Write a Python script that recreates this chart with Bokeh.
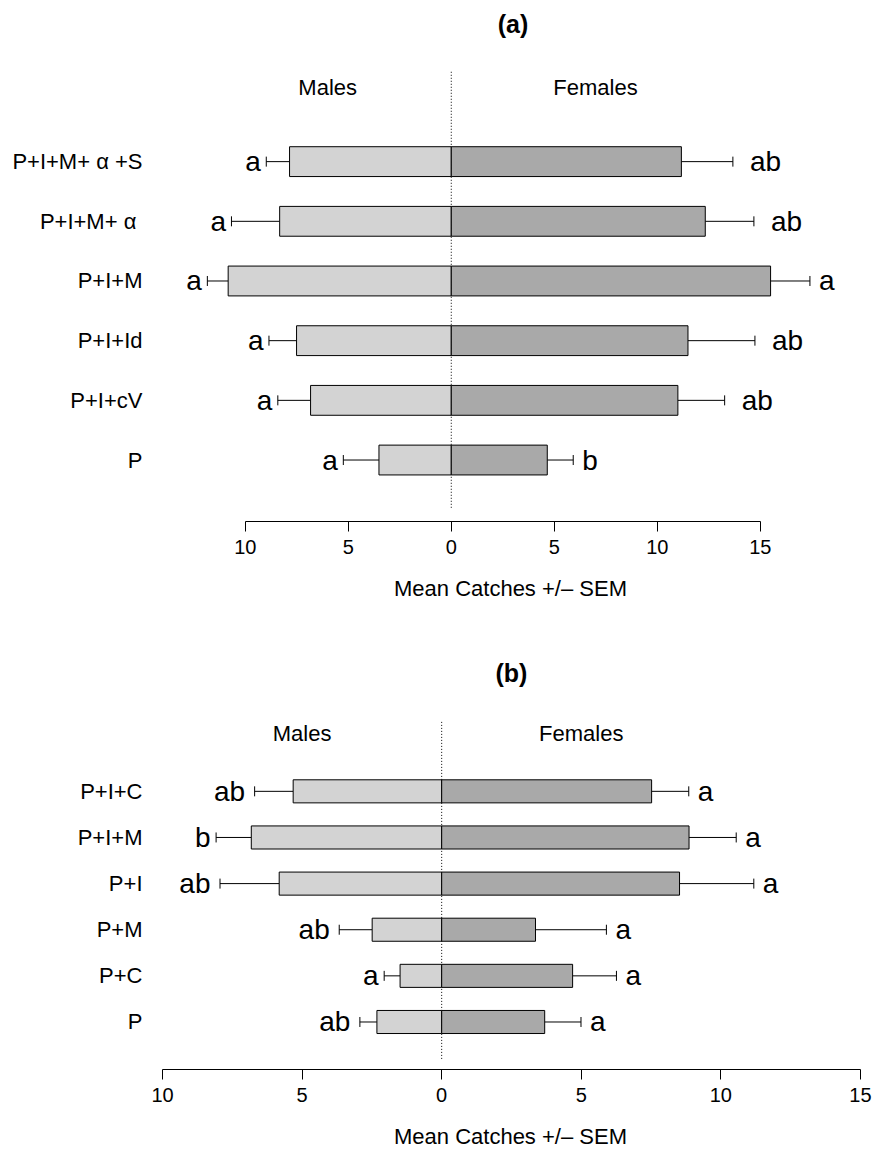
from bokeh.plotting import figure
from bokeh.layouts import column
from bokeh.models import Range1d, FixedTicker, Whisker, TeeHead, ColumnDataSource
from bokeh.core.properties import value
from bokeh.embed import file_html
from bokeh.resources import INLINE

# ---------------- data ----------------
# panel (a), categories listed top to bottom
cats_a = ["P+I+M+ α +S", "P+I+M+ α ", "P+I+M", "P+I+Id", "P+I+cV", "P"]
male_a = [7.85, 8.33, 10.83, 7.51, 6.83, 3.51]
male_sem_a = [1.13, 2.34, 1.01, 1.34, 1.59, 1.73]
female_a = [11.17, 12.33, 15.50, 11.49, 11.00, 4.66]
female_sem_a = [2.50, 2.36, 1.91, 3.25, 2.27, 1.26]
male_letters_a = ["a", "a", "a", "a", "a", "a"]
female_letters_a = ["ab", "ab", "a", "ab", "ab", "b"]

# panel (b), categories listed top to bottom
cats_b = ["P+I+C", "P+I+M", "P+I", "P+M", "P+C", "P"]
male_b = [5.32, 6.82, 5.82, 2.49, 1.49, 2.32]
male_sem_b = [1.38, 1.26, 2.12, 1.18, 0.57, 0.61]
female_b = [7.52, 8.86, 8.52, 3.36, 4.69, 3.69]
female_sem_b = [1.33, 1.69, 2.66, 2.54, 1.57, 1.30]
male_letters_b = ["ab", "b", "ab", "ab", "a", "ab"]
female_letters_b = ["a", "a", "a", "a", "a", "a"]

x_ticks = [-10, -5, 0, 5, 10, 15]
x_title = "Mean Catches +/\u2013 SEM"
sex_labels = ["Males", "Females"]
panel_titles = ["(a)", "(b)"]

# ---------------- layout constants ----------------
Y_BOTTOM = -0.53      # bottom of plotting region (axis line)
Y_REGION_TOP = 7.03   # top of the R plotting region (top of dotted line)
SEX_LABEL_Y = 6.75
FONT = "Liberation Sans"
MALE_FILL = "#d3d3d3"
FEMALE_FILL = "#a9a9a9"


def make_panel(title, title_xy, cats, m, ms, f, fs, ml, fl, x_lim, y_top, sex_x,
               height, b_bottom):
    n = len(cats)
    ys = [n - 1 - i + 0.5 for i in range(n)]
    p = figure(width=875, height=height,
               x_range=Range1d(*x_lim), y_range=Range1d(Y_BOTTOM, y_top),
               output_backend="svg", toolbar_location=None,
               min_border_left=150, min_border_right=5,
               min_border_top=0, min_border_bottom=b_bottom)
    p.grid.visible = False
    p.outline_line_color = None
    p.background_fill_color = "white"
    p.border_fill_color = "white"

    # panel title
    p.text(x=[title_xy[0]], y=[title_xy[1]], text=[title],
           text_align="center", text_baseline="middle",
           text_font=value(FONT), text_font_size="25px",
           text_font_style="bold", text_color="black")

    # zero reference line (dotted)
    p.segment(x0=0, y0=Y_BOTTOM + 0.23, x1=0, y1=Y_REGION_TOP,
              line_color="black", line_dash="1 2", line_width=1)

    src = ColumnDataSource(dict(
        y=ys,
        m_left=[-v for v in m],
        m_outer=[-(v + s) for v, s in zip(m, ms)],
        f_right=f,
        f_outer=[v + s for v, s in zip(f, fs)],
        ml=ml, fl=fl,
        ml_off=[-(5.5 + 4 * (len(s) - 1)) for s in ml],
        fl_off=[9 + 8 * (len(s) - 1) for s in fl],
    ))

    p.hbar(y="y", left="m_left", right=0, height=0.5, source=src,
           fill_color=MALE_FILL, line_color="black", line_width=1)
    p.hbar(y="y", left=0, right="f_right", height=0.5, source=src,
           fill_color=FEMALE_FILL, line_color="black", line_width=1)

    p.add_layout(Whisker(source=src, base="y", lower="m_outer", upper="m_left",
                         dimension="width", line_color="black", line_width=1,
                         lower_head=TeeHead(size=10, line_color="black", line_width=1),
                         upper_head=None))
    p.add_layout(Whisker(source=src, base="y", lower="f_right", upper="f_outer",
                         dimension="width", line_color="black", line_width=1,
                         upper_head=TeeHead(size=10, line_color="black", line_width=1),
                         lower_head=None))

    p.text(x="m_outer", y="y", text="ml", x_offset="ml_off", y_offset=0,
           source=src, text_align="right", text_baseline="middle",
           text_font=value(FONT), text_font_size="28px", text_color="black")
    p.text(x="f_outer", y="y", text="fl", x_offset="fl_off", y_offset=0,
           source=src, text_align="left", text_baseline="middle",
           text_font=value(FONT), text_font_size="28px", text_color="black")

    p.text(x=sex_x, y=[SEX_LABEL_Y, SEX_LABEL_Y], text=sex_labels,
           text_align="center", text_baseline="middle",
           text_font=value(FONT), text_font_size="22px", text_color="black")

    xa = p.xaxis[0]
    xa.ticker = FixedTicker(ticks=x_ticks, minor_ticks=[])
    xa.major_label_overrides = {t_: str(abs(t_)) for t_ in x_ticks}
    xa.bounds = (x_ticks[0], x_ticks[-1])
    xa.major_tick_out = 10
    xa.major_tick_in = 0
    xa.minor_tick_line_color = None
    xa.axis_line_color = "black"
    xa.major_tick_line_color = "black"
    xa.major_label_text_font = FONT
    xa.major_label_text_font_size = "20px"
    xa.major_label_text_color = "black"
    xa.major_label_standoff = 8
    xa.axis_label = x_title
    xa.axis_label_text_font = FONT
    xa.axis_label_text_font_size = "22px"
    xa.axis_label_text_font_style = "normal"
    xa.axis_label_text_color = "black"
    xa.axis_label_standoff = 19

    ya = p.yaxis[0]
    ya.ticker = FixedTicker(ticks=ys, minor_ticks=[])
    ya.major_label_overrides = {y_: c for y_, c in zip(ys, cats)}
    ya.axis_line_color = None
    ya.major_tick_line_color = None
    ya.minor_tick_line_color = None
    ya.major_tick_out = 0
    ya.major_tick_in = 0
    ya.major_label_standoff = 8
    ya.major_label_text_font = FONT
    ya.major_label_text_font_size = "22px"
    ya.major_label_text_color = "black"
    return p


pa = make_panel(panel_titles[0], (3.0, 7.80), cats_a, male_a, male_sem_a,
                female_a, female_sem_a, male_letters_a, female_letters_a,
                x_lim=(-14.60, 20.35), y_top=8.20, sex_x=[-6, 7],
                height=628, b_bottom=107)
pb = make_panel(panel_titles[1], (2.5, 8.06), cats_b, male_b, male_sem_b,
                female_b, female_sem_b, male_letters_b, female_letters_b,
                x_lim=(-10.43, 15.36), y_top=9.03, sex_x=[-5, 5],
                height=523, b_bottom=79)

layout = column(pa, pb, spacing=0)
open("out.html", "w").write(file_html(layout, INLINE))
